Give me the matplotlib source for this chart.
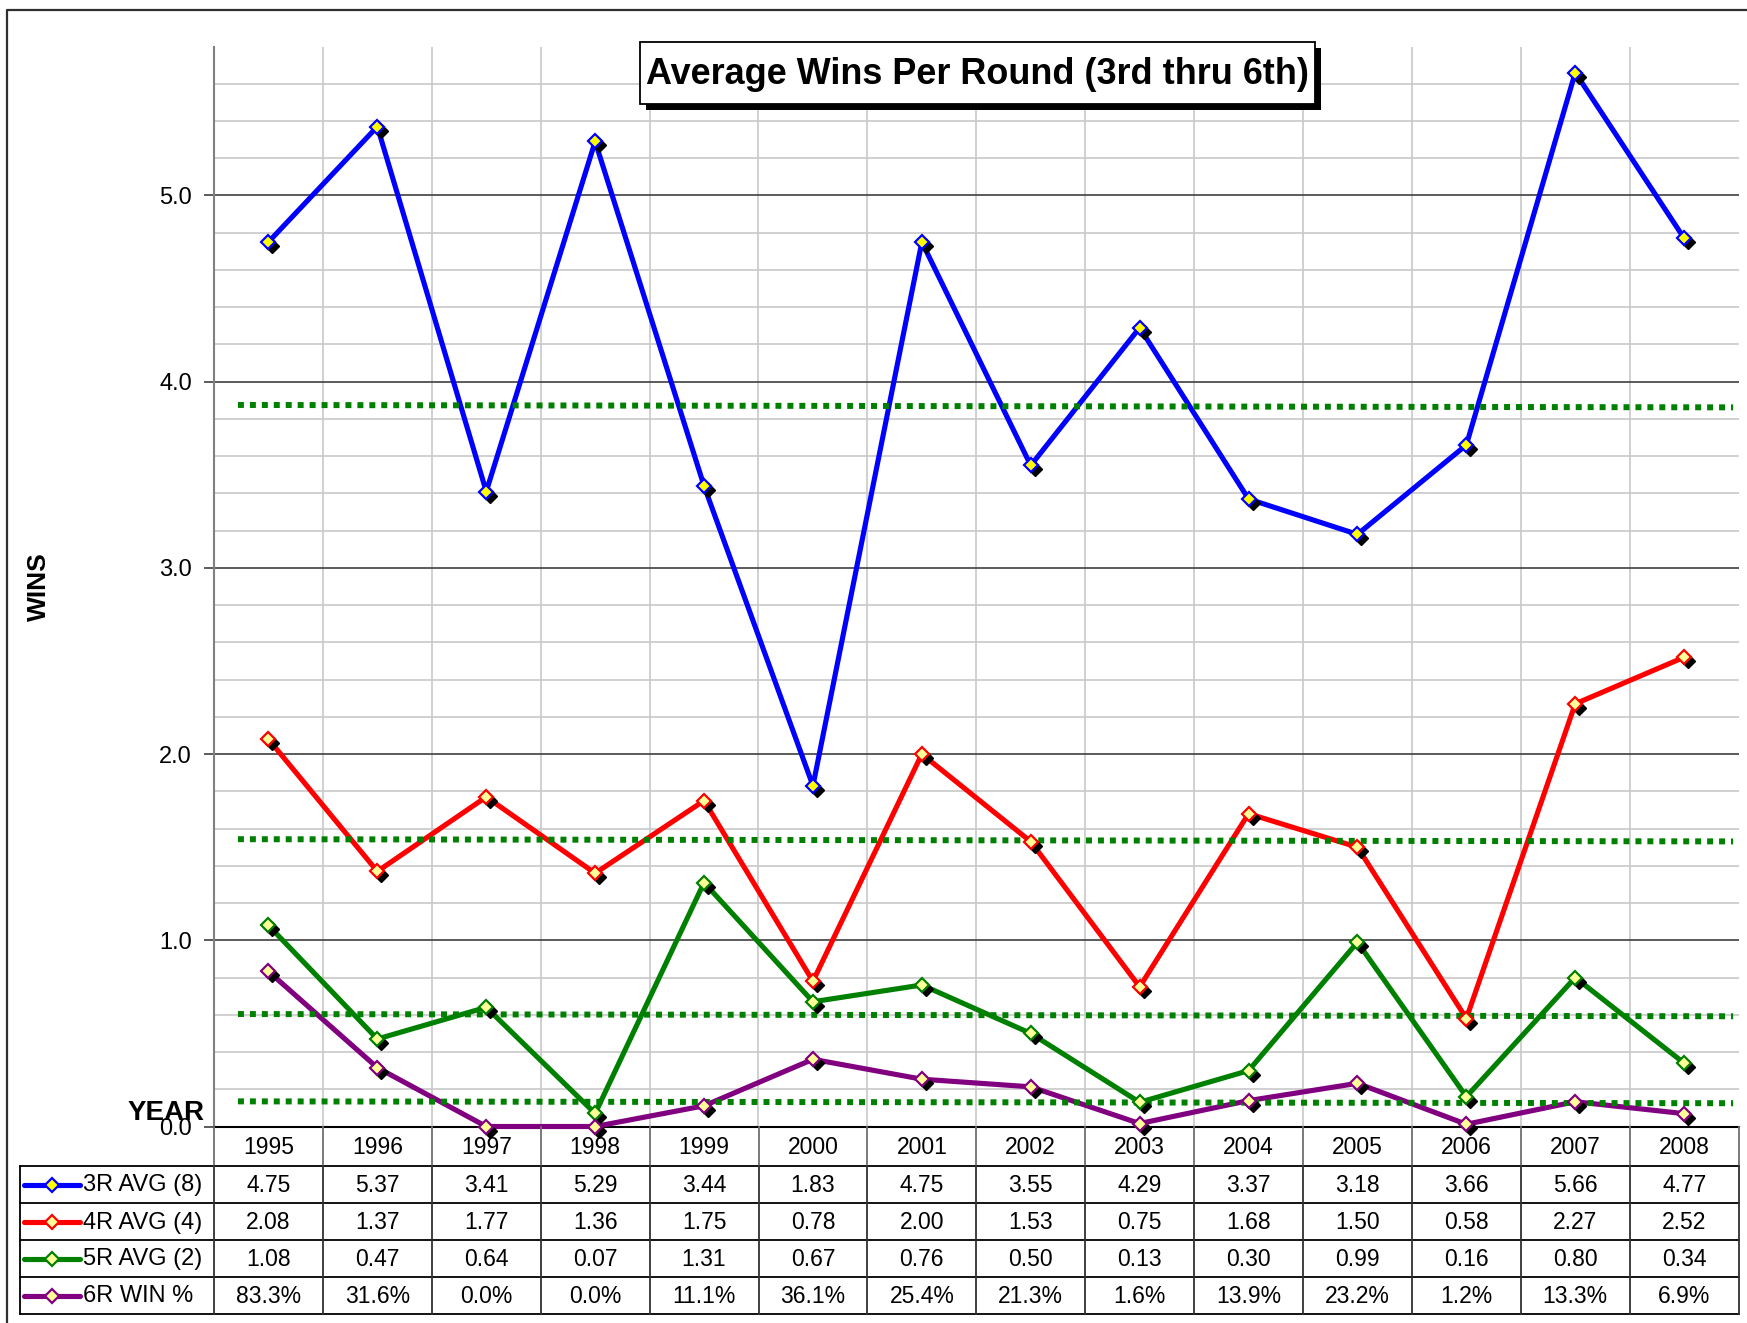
import matplotlib
matplotlib.use('Agg')
import matplotlib.pyplot as plt
import numpy as np
from matplotlib import transforms, font_manager
from matplotlib.patches import Rectangle

# ---------------- data ----------------
years = ['1995', '1996', '1997', '1998', '1999', '2000', '2001',
         '2002', '2003', '2004', '2005', '2006', '2007', '2008']
r3_avg = [4.75, 5.37, 3.41, 5.29, 3.44, 1.83, 4.75, 3.55, 4.29, 3.37, 3.18, 3.66, 5.66, 4.77]
r4_avg = [2.08, 1.37, 1.77, 1.36, 1.75, 0.78, 2.00, 1.53, 0.75, 1.68, 1.50, 0.58, 2.27, 2.52]
r5_avg = [1.08, 0.47, 0.64, 0.07, 1.31, 0.67, 0.76, 0.50, 0.13, 0.30, 0.99, 0.16, 0.80, 0.34]
r6_win = [0.833, 0.316, 0.0, 0.0, 0.111, 0.361, 0.254, 0.213, 0.016, 0.139, 0.232, 0.012, 0.133, 0.069]
series_labels = ['3R AVG (8)', '4R AVG (4)', '5R AVG (2)', '6R WIN %']
# overall-average reference lines (value at left end, value at right end)
ref_start = [3.875, 1.543, 0.604, 0.135]
ref_end = [3.862, 1.531, 0.592, 0.125]
ref_x = [-0.28, 13.45]
y_ticks = [0, 1, 2, 3, 4, 5]
y_tick_labels = ['0.0', '1.0', '2.0', '3.0', '4.0', '5.0']
title = 'Average Wins Per Round (3rd thru 6th)'

series = [r3_avg, r4_avg, r5_avg, r6_win]
fmts = ['{:.2f}', '{:.2f}', '{:.2f}', '{:.1%}']
colors = ['#0000FF', '#FF0000', '#008000', '#800080']
fills = ['#FFFF00', '#FFFF99', '#FFFF99', '#FFFF99']

W, H = 1747, 1323
plt.rcParams['font.family'] = ['Liberation Sans', 'DejaVu Sans']
fig = plt.figure(figsize=(W / 100, H / 100), dpi=100)

# pixel layout
AX_L, AX_R, AX_T, AX_B = 214, 1738.6, 46.5, 1126.5
TB_L, TB_B = 20, 1314

ax = fig.add_axes([AX_L / W, 1 - AX_B / H, (AX_R - AX_L) / W, (AX_B - AX_T) / H])
x = np.arange(len(years))
ax.set_xlim(-0.5, len(years) - 0.5)
ax.set_ylim(0, 5.8)
for s in ['top', 'right']:
    ax.spines[s].set_visible(False)
ax.spines['bottom'].set_color('black')
ax.spines['bottom'].set_linewidth(1.5)
ax.spines['left'].set_color('#808080')
ax.spines['left'].set_linewidth(1.5)

ax.set_yticks(y_ticks)
ax.set_yticklabels(y_tick_labels, fontsize=17)
ax.set_yticks(np.arange(0.2, 5.7, 0.2), minor=True)
ax.set_xticks([])
ax.set_xticks(np.arange(0.5, len(years) - 1, 1.0), minor=True)
ax.tick_params(axis='y', which='major', length=7, width=1.2, color='#404040', pad=9)
ax.tick_params(axis='both', which='minor', length=0)
ax.tick_params(axis='x', which='both', length=0, labelbottom=False)
ax.grid(axis='y', which='major', color='#404040', lw=1.2)
ax.grid(axis='y', which='minor', color='#C8C8C8', lw=1.2)
ax.grid(axis='x', which='minor', color='#C8C8C8', lw=1.2)
ax.set_axisbelow(True)

shadow_tr = transforms.offset_copy(ax.transData, fig=fig, x=4, y=-4, units='dots')
for vals, c in zip(series, colors):
    ax.plot(x, vals, color=c, lw=3.7, zorder=3, solid_joinstyle='round', clip_on=False)
for rs, re in zip(ref_start, ref_end):
    ax.plot(ref_x, [rs, re], color='#008000', lw=4.3, ls=(0, (1, 1)),
            dash_capstyle='butt', zorder=3.5)
for vals, c, fc in zip(series, colors, fills):
    ax.plot(x, vals, ls='none', marker='D', ms=7.5, mfc='black', mec='black',
            transform=shadow_tr, zorder=4, clip_on=False)
    ax.plot(x, vals, ls='none', marker='D', ms=7.5, mfc=fc, mec=c, mew=1.6,
            zorder=5, clip_on=False)

# ---------------- data table ----------------
cw = (AX_R - AX_L) / len(years)
tx_left = -0.5 - (AX_L - TB_L) / cw
tax = fig.add_axes([TB_L / W, 1 - TB_B / H, (AX_R - TB_L) / W, (TB_B - AX_B) / H])
tax.set_xlim(tx_left, len(years) - 0.5)
tbh = TB_B - AX_B
tax.set_ylim(tbh, 0)
tax.axis('off')
row_edges = [0, 39.5, 76.5, 113.5, 150.5, tbh]
for i, yr in enumerate(years):
    tax.text(i, (row_edges[0] + row_edges[1]) / 2 + 1, yr, ha='center', va='center', fontsize=16.5)
for r, (vals, fmt) in enumerate(zip(series, fmts)):
    yc = (row_edges[r + 1] + row_edges[r + 2]) / 2 + 1
    for i, v in enumerate(vals):
        tax.text(i, yc, fmt.format(v), ha='center', va='center', fontsize=16.5)
for yb in row_edges[1:]:
    tax.plot([tx_left, len(years) - 0.5], [yb, yb], color='black', lw=1.3, clip_on=False)
tax.plot([tx_left, tx_left], [row_edges[1], row_edges[-1]], color='black', lw=1.3, clip_on=False)
for k in np.arange(-0.5, len(years), 1.0):
    tax.plot([k, k], [row_edges[0], row_edges[1]], color='#707070', lw=1.3, clip_on=False)
    tax.plot([k, k], [row_edges[1], row_edges[-1]], color='#303030', lw=1.3, clip_on=False)

# ---------------- overlay (pixel coords) ----------------
ov = fig.add_axes([0, 0, 1, 1], zorder=10)
ov.set_xlim(0, W)
ov.set_ylim(H, 0)
ov.axis('off')
ov.patch.set_visible(False)

# outer border
ov.plot([7, 7, W + 5], [H + 5, 10, 10], color='#303030', lw=1.6, clip_on=False)

# legend glyphs in table
for r, (lab, c, fc) in enumerate(zip(series_labels, colors, fills)):
    yc = AX_B + (row_edges[r + 1] + row_edges[r + 2]) / 2
    ov.plot([24, 80], [yc, yc], color=c, lw=3.7, solid_capstyle='round')
    ov.plot([52], [yc], ls='none', marker='D', ms=7.5, mfc=fc, mec=c, mew=1.6)
    ov.text(83, yc + 1, lab, ha='left', va='center', fontsize=17)

# axis titles
ov.text(39, 587, 'WINS', rotation=90, fontsize=19, fontweight='bold', ha='center', va='center')
ov.text(205, 1113, 'YEAR', fontsize=20, fontweight='bold', ha='right', va='center')

# title box with shadow
bx0, by0, bw, bh = 640, 42, 675, 62
ov.add_patch(Rectangle((bx0 + 6, by0 + 6), bw, bh, fc='black', ec='black', lw=0))
ov.add_patch(Rectangle((bx0, by0), bw, bh, fc='white', ec='black', lw=1.3))
names = {f.name for f in font_manager.fontManager.ttflist}
tfam = ['Liberation Sans Narrow', 'Liberation Sans'] if 'Liberation Sans Narrow' in names else ['Liberation Sans']
tt = ov.text(bx0 + bw / 2, by0 + bh / 2 + 1, title, ha='center', va='center',
             fontsize=26, fontweight='bold', family=tfam)
renderer = fig.canvas.get_renderer()
wdt = tt.get_window_extent(renderer).width
tt.set_fontsize(26 * 663 / wdt)

fig.savefig('out.png', dpi=100)
